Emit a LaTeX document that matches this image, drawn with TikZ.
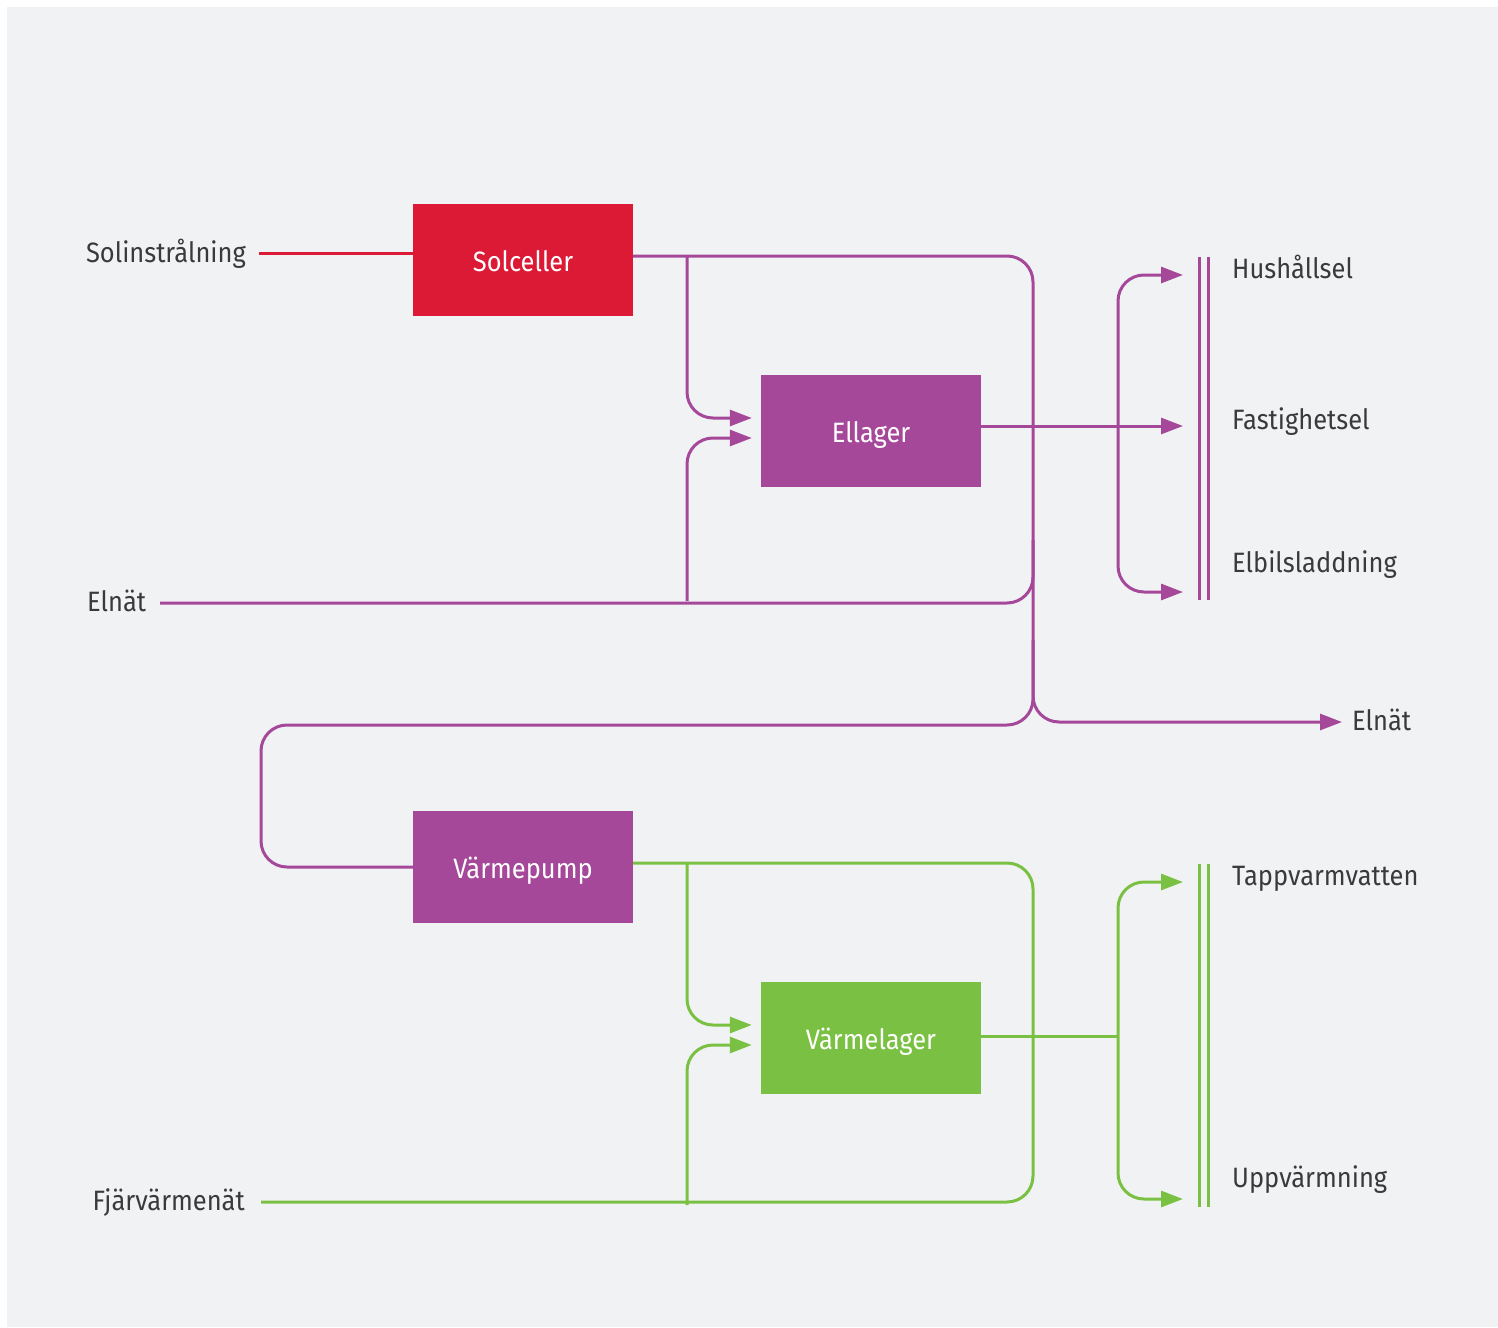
\documentclass[tikz,border=0pt]{standalone}
\usepackage{fontspec}
\setmainfont{Fira Sans}[FakeStretch=0.91]
\usetikzlibrary{arrows.meta}
\definecolor{bgc}{HTML}{F1F2F4}
\definecolor{cred}{HTML}{DC1A35}
\definecolor{cpur}{HTML}{A6489A}
\definecolor{cgrn}{HTML}{7AC143}
\definecolor{ctxt}{HTML}{3A3A3A}
\begin{document}
\begin{tikzpicture}[x=1pt,y=-1pt,
  lbl/.style={inner sep=0pt,text=ctxt,font=\fontsize{28}{33}\selectfont},
  boxlbl/.style={inner sep=0pt,text=white,font=\fontsize{28}{33}\selectfont},
  flowbox/.style={minimum width=220pt,minimum height=112pt,inner sep=0pt},
  flow/.style={line width=3pt,rounded corners=26pt},
  tip/.style={-{Triangle[length=22pt,width=16pt]}},
  tips/.style={{Triangle[length=22pt,width=16pt]}-{Triangle[length=22pt,width=16pt]}},
  bar/.style={line width=3pt}]
\useasboundingbox (0,0) rectangle (1498,1327);
\fill[white] (0,0) rectangle (1498,1327);
\fill[bgc] (7,7) rectangle (1498,1327);

% boxes
\node[flowbox,fill=cred] (solc) at (523,260) {};
\node[flowbox,fill=cpur] (ellag) at (871,431) {};
\node[flowbox,fill=cpur] (vpump) at (523,867) {};
\node[flowbox,fill=cgrn] (vlag) at (871,1038) {};
\node[boxlbl,anchor=base] (solct) at (523,271) {Solceller};
\node[boxlbl,anchor=base] (ellagt) at (871,442) {Ellager};
\node[boxlbl,anchor=base] (vpumpt) at (523,878) {Värmepump};
\node[boxlbl,anchor=base] (vlagt) at (871,1049) {Värmelager};

% labels
\node[lbl,anchor=base east] (sol) at (246,262) {Solinstrålning};
\node[lbl,anchor=base west] (elnL) at (87,611) {Elnät};
\node[lbl,anchor=base east] (fjv) at (245,1210) {Fjärvärmenät};
\node[lbl,anchor=base west] (hus) at (1232,278) {Hushållsel};
\node[lbl,anchor=base west] (fast) at (1232,429) {Fastighetsel};
\node[lbl,anchor=base west] (elbil) at (1232,572) {Elbilsladdning};
\node[lbl,anchor=base west] (elnR) at (1352,730) {Elnät};
\node[lbl,anchor=base west] (tapp) at (1232,885) {Tappvarmvatten};
\node[lbl,anchor=base west] (uppv) at (1232,1187) {Uppvärmning};

% junction coordinates
\coordinate (jTop) at (1033,256);
\coordinate (jMid) at (1033,725);
\coordinate (jMidR) at (1033,722);
\coordinate (jLow) at (1033,603);
\coordinate (bL) at (261,725);
\coordinate (bL2) at (261,867);
\coordinate (brA) at (1118,275);
\coordinate (brB) at (1118,592);
\coordinate (brC) at (1118,882);
\coordinate (brD) at (1118,1199);
\coordinate (gTop) at (1033,863);
\coordinate (gBot) at (1033,1202);

% red input
\draw[flow,cred] (259,253) -- (solc.west |- 0,253);

% purple network
\draw[flow,cpur] (solc.east |- jTop) -- (jTop) -- (jMid) -- (bL) -- (bL2) -- (vpump.west |- bL2);
\draw[flow,cpur,tip] (1033,640) -- (jMidR) -- ([xshift=-10pt]elnR.west |- jMidR);
\draw[flow,cpur] (160,603) -- (jLow) -- (1033,540);
\draw[flow,cpur,tip] (687,256) -- (687,418) -- ([xshift=-9pt]ellag.west |- 0,418);
\draw[flow,cpur,tip] (687,601) -- (687,438) -- ([xshift=-9pt]ellag.west |- 0,438);
\draw[flow,cpur,tip] (ellag.east |- 0,426) -- (1183,426);
\draw[flow,cpur,tips] (1183,275) -- (brA) -- (brB) -- (1183,592);
\draw[bar,cpur] (1199,257) -- (1199,600);
\draw[bar,cpur] (1208,257) -- (1208,600);

% green network
\draw[flow,cgrn] (vpump.east |- gTop) -- (gTop) -- (gBot) -- (261,1202);
\draw[flow,cgrn,tip] (687,863) -- (687,1025) -- ([xshift=-9pt]vlag.west |- 0,1025);
\draw[flow,cgrn,tip] (687,1205) -- (687,1045) -- ([xshift=-9pt]vlag.west |- 0,1045);
\draw[flow,cgrn] (vlag.east |- 0,1036) -- (1118,1036);
\draw[flow,cgrn,tips] (1183,882) -- (brC) -- (brD) -- (1183,1199);
\draw[bar,cgrn] (1199,864) -- (1199,1207);
\draw[bar,cgrn] (1208,864) -- (1208,1207);
\end{tikzpicture}
\end{document}
